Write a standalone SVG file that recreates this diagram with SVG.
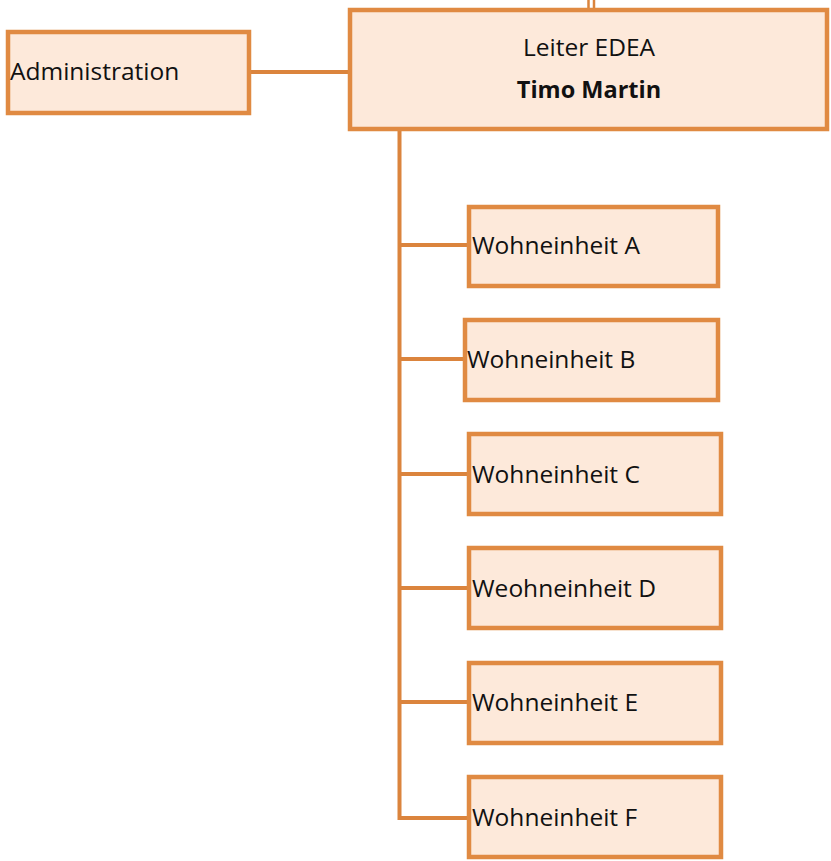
<svg xmlns="http://www.w3.org/2000/svg" width="831" height="861" viewBox="0 0 831 861">
<style>
.box{fill:#FDE9DA;stroke:#E08A42;stroke-width:4.5}
.ln{stroke:#DB843D;stroke-width:4;fill:none}
.t{font-family:"Open Sans","Noto Sans","Liberation Sans",sans-serif;font-size:24.5px;fill:#111}
.b{font-weight:bold;font-size:23.5px}
</style>
<rect width="831" height="861" fill="#fff"/>
<g id="connectors">
<line class="ln" x1="588.5" y1="0" x2="588.5" y2="10" style="stroke-width:2.5"/>
<line class="ln" x1="594" y1="0" x2="594" y2="10" style="stroke-width:2.5"/>
<line class="ln" x1="250" y1="72" x2="349" y2="72"/>
<polyline class="ln" points="399.5,130 399.5,818 468,818"/>
<line class="ln" x1="399.5" y1="245" x2="468" y2="245"/>
<line class="ln" x1="399.5" y1="359" x2="464" y2="359"/>
<line class="ln" x1="399.5" y1="474" x2="468" y2="474"/>
<line class="ln" x1="399.5" y1="588" x2="468" y2="588"/>
<line class="ln" x1="399.5" y1="702" x2="468" y2="702"/>
</g>
<g id="administration">
<rect class="box" x="8" y="32" width="241" height="81"/>
<text class="t" x="10" y="80">Administration</text>
</g>
<g id="leiter">
<rect class="box" x="350" y="10" width="477" height="119"/>
<text class="t" x="589" y="56" text-anchor="middle">Leiter EDEA</text>
<text class="t b" x="589" y="98" text-anchor="middle">Timo Martin</text>
</g>
<g id="wohneinheit-a">
<rect class="box" x="469" y="207" width="249" height="79"/>
<text class="t" x="472" y="254">Wohneinheit A</text>
</g>
<g id="wohneinheit-b">
<rect class="box" x="465" y="320" width="253" height="80"/>
<text class="t" x="467" y="368">Wohneinheit B</text>
</g>
<g id="wohneinheit-c">
<rect class="box" x="469" y="434" width="252" height="80"/>
<text class="t" x="472" y="483">Wohneinheit C</text>
</g>
<g id="wohneinheit-d">
<rect class="box" x="469" y="548" width="252" height="80"/>
<text class="t" x="472" y="597">Weohneinheit D</text>
</g>
<g id="wohneinheit-e">
<rect class="box" x="469" y="663" width="252" height="80"/>
<text class="t" x="472" y="711">Wohneinheit E</text>
</g>
<g id="wohneinheit-f">
<rect class="box" x="469" y="777" width="252" height="80"/>
<text class="t" x="472" y="826">Wohneinheit F</text>
</g>
</svg>
